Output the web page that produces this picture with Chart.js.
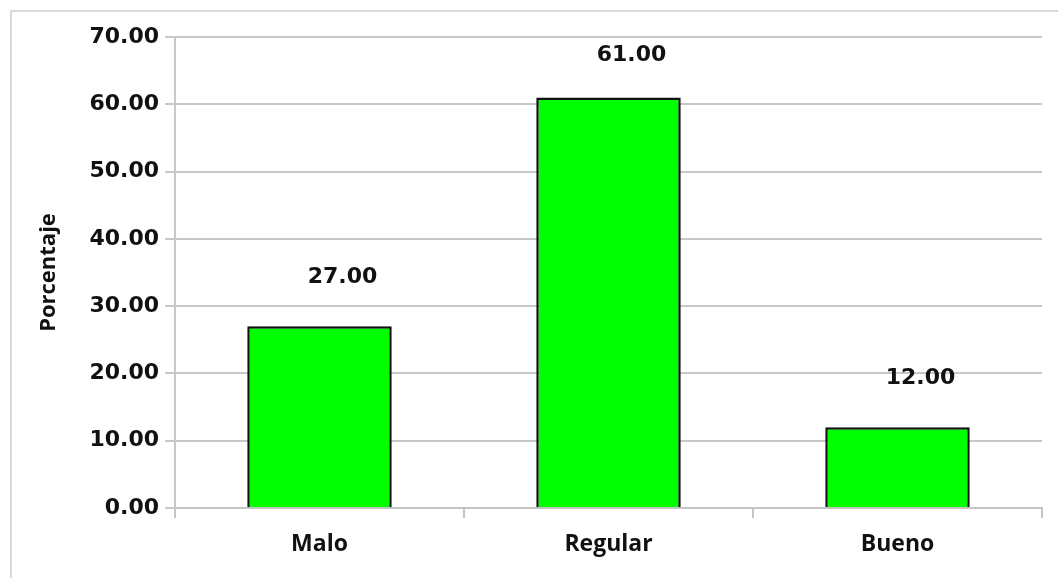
<!DOCTYPE html>
<html lang="es">
<head>
<meta charset="UTF-8">
<title>Porcentaje</title>
<script src="https://cdn.jsdelivr.net/npm/chart.js"></script>
<style>
  body { margin: 0; background: #fff; }
  #marco { position: absolute; left: 10px; top: 10px; width: 1100px; height: 600px; border: 2px solid #d9d9d9; }
  #contenedor { position: absolute; left: 0; top: 0; width: 1058px; height: 578px; }
</style>
</head>
<body>
<div id="marco"></div>
<div id="contenedor"><canvas id="canvas"></canvas></div>
<script>
const categorias = ['Malo', 'Regular', 'Bueno'];
const porcentajes = [27, 61, 12];
const ticksY = [0, 10, 20, 30, 40, 50, 60, 70];

// etiquetas de valor arriba a la derecha de cada barra
const etiquetas = {
  id: 'etiquetas',
  afterDatasetsDraw(chart) {
    const c = chart.ctx;
    const meta = chart.getDatasetMeta(0);
    c.save();
    c.font = 'bold 22px "DejaVu Sans"';
    c.fillStyle = '#111';
    c.textAlign = 'center';
    c.textBaseline = 'middle';
    meta.data.forEach((bar, i) => {
      const y = Math.max(bar.y - 49, 55);
      c.fillText(porcentajes[i].toFixed(2), bar.x + 23, y);
    });
    c.restore();
  }
};

new Chart(document.getElementById('canvas'), {
  type: 'bar',
  data: {
    labels: categorias,
    datasets: [{
      data: porcentajes,
      backgroundColor: '#00ff00',
      borderColor: '#111',
      borderWidth: 2.5,
      categoryPercentage: 1,
      barPercentage: 0.5
    }]
  },
  options: {
    responsive: true,
    maintainAspectRatio: false,
    animation: false,
    layout: { padding: { top: 37, right: 16, bottom: 0, left: 10 } },
    plugins: { legend: { display: false }, tooltip: { enabled: false } },
    scales: {
      x: {
        afterFit: s => { s.height = 70; },
        grid: { drawOnChartArea: false, drawTicks: true, tickLength: 10, color: '#c4c4c4', lineWidth: 2 },
        border: { color: '#c4c4c4', width: 2 },
        ticks: { color: '#111', padding: 13, font: { family: 'Open Sans', weight: 'bold', size: 23 } }
      },
      y: {
        min: 0,
        max: 70,
        afterFit: s => { s.width = 165; },
        afterBuildTicks: s => { s.ticks = ticksY.map(v => ({ value: v })); },
        grid: { color: '#c8c8c8', lineWidth: 2, tickLength: 10 },
        border: { color: '#c8c8c8', width: 2 },
        title: { display: true, text: 'Porcentaje', color: '#111', padding: { top: 26, bottom: 0 }, font: { family: 'Open Sans', weight: 'bold', size: 22 } },
        ticks: { color: '#111', padding: 6, callback: v => Number(v).toFixed(2), font: { family: 'DejaVu Sans', weight: 'bold', size: 22 } }
      }
    }
  },
  plugins: [etiquetas]
});
</script>
</body>
</html>
